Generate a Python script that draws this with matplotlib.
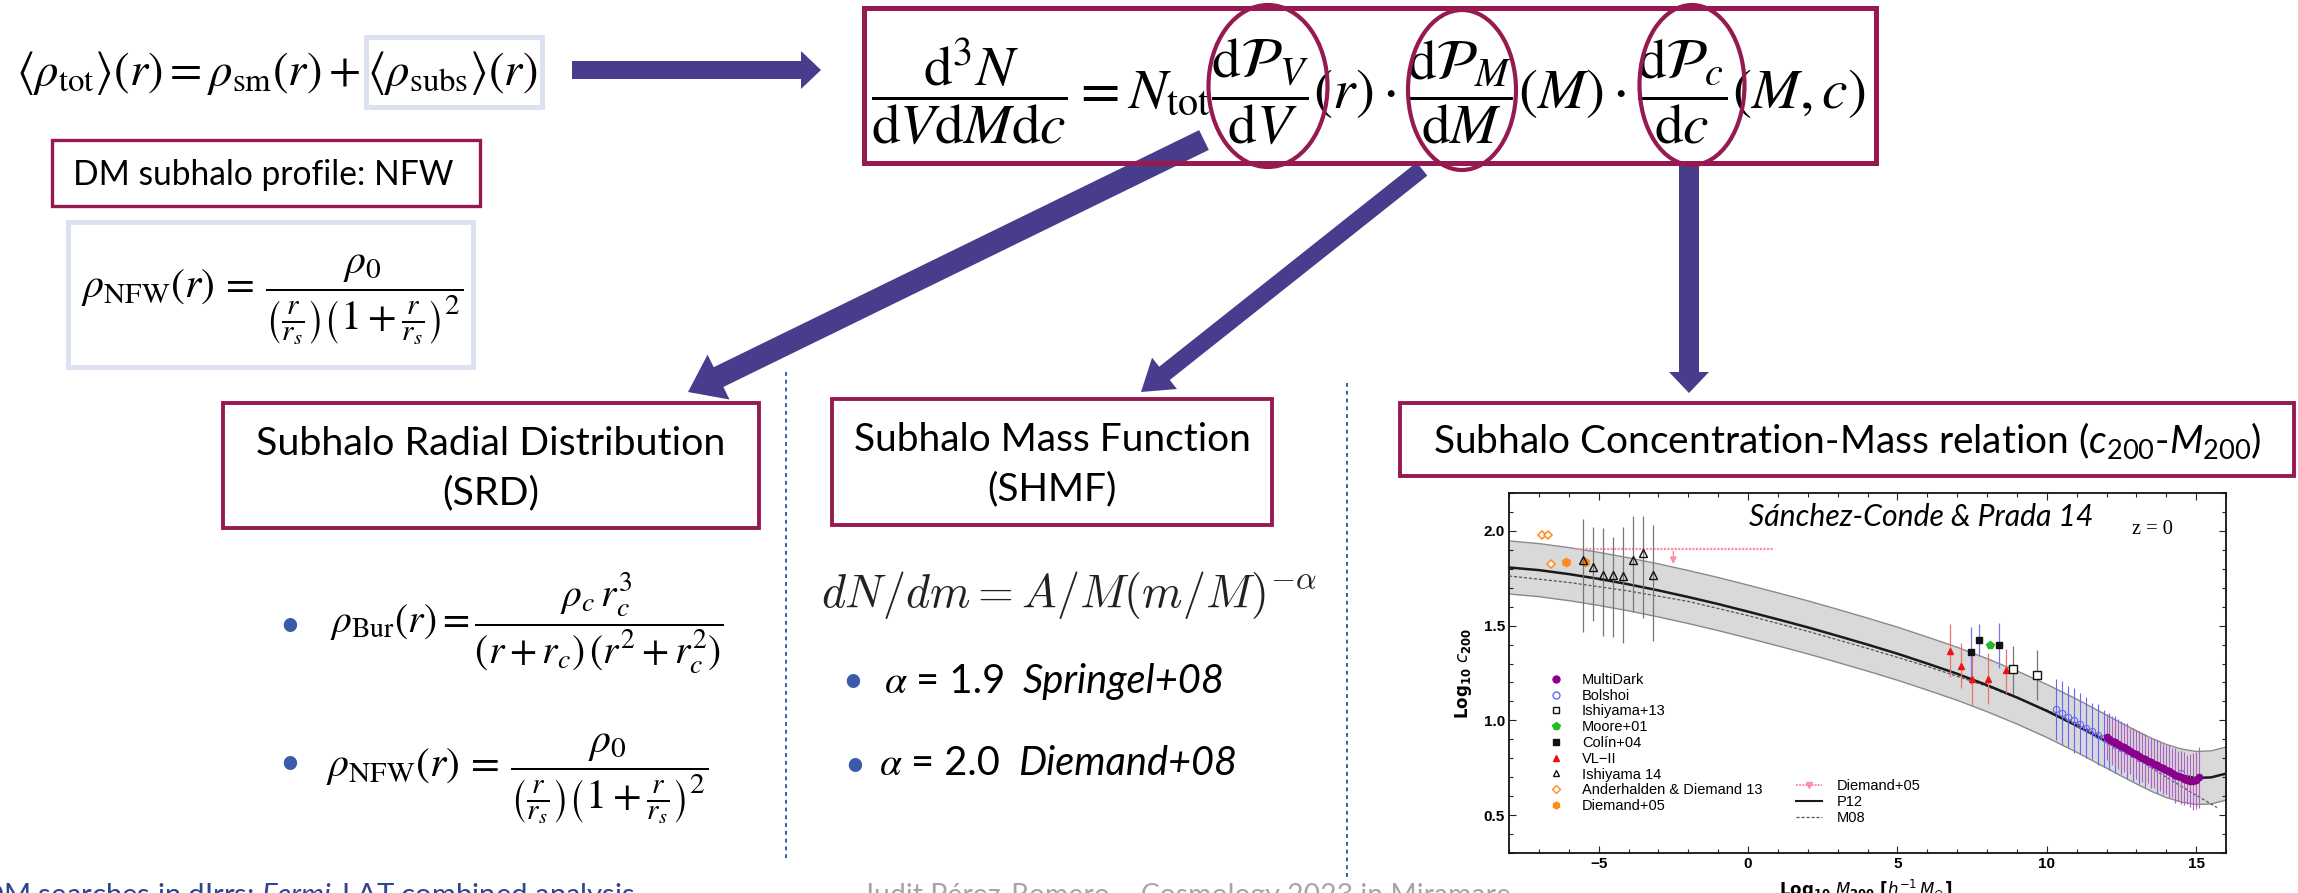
import matplotlib
matplotlib.use('Agg')
import matplotlib.pyplot as plt
from matplotlib.patches import Rectangle, Ellipse, FancyArrow
from matplotlib.lines import Line2D
import numpy as np

plt.rcParams['mathtext.fontset'] = 'stix'
plt.rcParams['mathtext.rm'] = 'Lato'
plt.rcParams['mathtext.it'] = 'Lato:italic'
plt.rcParams['mathtext.bf'] = 'Lato:bold'
plt.rcParams['font.family'] = ['Lato', 'DejaVu Sans']

# ---------------- data ----------------
cm_x = [-8, -7, -6, -5, -4, -3, -2, -1, 0, 1, 2, 3, 4, 5, 6, 7, 8, 9, 10, 11,
        12, 12.5, 13, 13.5, 14, 14.5, 15, 15.5, 16]
p12_y = [1.807, 1.793, 1.772, 1.747, 1.718, 1.686, 1.651, 1.614, 1.574, 1.533,
         1.491, 1.446, 1.400, 1.352, 1.300, 1.246, 1.186, 1.121, 1.050, 0.972,
         0.888, 0.846, 0.805, 0.766, 0.733, 0.709, 0.696, 0.699, 0.719]
band_hi = [1.947, 1.933, 1.912, 1.887, 1.858, 1.826, 1.791, 1.754, 1.714, 1.673,
           1.631, 1.586, 1.540, 1.492, 1.440, 1.386, 1.326, 1.261, 1.190, 1.112,
           1.028, 0.986, 0.945, 0.906, 0.873, 0.849, 0.836, 0.839, 0.859]
band_lo = [1.667, 1.653, 1.632, 1.607, 1.578, 1.546, 1.511, 1.474, 1.434, 1.393,
           1.351, 1.306, 1.260, 1.212, 1.160, 1.106, 1.046, 0.981, 0.910, 0.832,
           0.748, 0.706, 0.665, 0.626, 0.593, 0.569, 0.556, 0.559, 0.579]
m08_x = [-8, -6, -4, -2, 0, 2, 4, 6, 8, 10, 11, 12, 13, 14, 15, 15.7]
m08_y = [1.762, 1.728, 1.683, 1.628, 1.553, 1.470, 1.380, 1.285, 1.180, 1.055,
         0.985, 0.900, 0.800, 0.700, 0.605, 0.540]

multidark_x = [12.0, 12.1, 12.2, 12.3, 12.4, 12.5, 12.6, 12.7, 12.8, 12.9, 13.0,
               13.1, 13.2, 13.3, 13.4, 13.5, 13.6, 13.7, 13.8, 13.9, 14.0, 14.1,
               14.2, 14.3, 14.4, 14.5, 14.6, 14.7, 14.8, 14.9, 15.0, 15.1]
multidark_y = [0.912, 0.902, 0.893, 0.884, 0.875, 0.866, 0.857, 0.848, 0.839, 0.830,
               0.821, 0.812, 0.803, 0.795, 0.787, 0.779, 0.771, 0.763, 0.755, 0.747,
               0.739, 0.731, 0.723, 0.714, 0.706, 0.699, 0.692, 0.686, 0.681, 0.679,
               0.684, 0.700]
multidark_err = [0.12, 0.12, 0.13, 0.12, 0.13, 0.12, 0.13, 0.13, 0.12, 0.13, 0.13,
                 0.12, 0.13, 0.13, 0.12, 0.13, 0.13, 0.12, 0.13, 0.13, 0.13, 0.14,
                 0.13, 0.14, 0.13, 0.14, 0.14, 0.13, 0.14, 0.15, 0.15, 0.16]
bolshoi_x = [10.3, 10.5, 10.7, 10.9, 11.1, 11.3, 11.5, 11.7, 11.9, 12.1, 12.3,
             12.5, 12.7, 12.9, 13.1, 13.3, 13.5, 13.7, 13.9, 14.1, 14.3, 14.5]
bolshoi_y = [1.058, 1.040, 1.020, 1.000, 0.982, 0.962, 0.944, 0.925, 0.906, 0.890,
             0.872, 0.855, 0.838, 0.821, 0.804, 0.789, 0.772, 0.757, 0.742, 0.727,
             0.705, 0.720]
bolshoi_err = [0.16, 0.17, 0.16, 0.17, 0.16, 0.16, 0.15, 0.16, 0.15, 0.15, 0.15,
               0.14, 0.15, 0.14, 0.14, 0.14, 0.13, 0.14, 0.13, 0.13, 0.14, 0.12]
ishi14_x = [-5.53, -5.19, -4.86, -4.52, -4.19, -3.86, -3.53, -3.19]
ishi14_y = [1.847, 1.812, 1.768, 1.768, 1.762, 1.847, 1.882, 1.768]
ishi14_lo = [1.468, 1.525, 1.446, 1.442, 1.410, 1.572, 1.542, 1.419]
ishi14_hi = [2.065, 2.023, 2.014, 1.970, 2.018, 2.079, 2.079, 2.032]
vl2_x = [6.76, 7.12, 7.50, 8.02, 8.63]
vl2_y = [1.366, 1.287, 1.217, 1.220, 1.266]
vl2_lo = [1.229, 1.169, 1.076, 1.087, 1.147]
vl2_hi = [1.507, 1.410, 1.358, 1.358, 1.379]
colin_x = [7.45, 7.73, 8.41]
colin_y = [1.361, 1.424, 1.398]
colin_lo = [1.191, 1.340, 1.278]
colin_hi = [1.493, 1.507, 1.516]
moore_x = [8.09]
moore_y = [1.396]
ishi13_x = [8.87, 9.69]
ishi13_y = [1.270, 1.240]
ishi13_lo = [1.141, 1.108]
ishi13_hi = [1.393, 1.370]
anderh_x = [-6.90, -6.71, -6.60]
anderh_y = [1.977, 1.977, 1.824]
diemand_x = [-6.09, -5.45]
diemand_y = [1.838, 1.838]
diemand_lim_x = [-5.8, 0.85]
diemand_lim_y = [1.907, 1.907]
diemand_arrow_x = -2.5
diemand_arrow_to = 1.81

x_ticks = [-5, 0, 5, 10, 15]
y_ticks = [0.5, 1.0, 1.5, 2.0]

# ---------------- colours ----------------
MAROON = '#961A50'
ARROW = '#483C8C'
LIGHT = '#DCE2F1'
BULLET = '#3B5BAA'

W, H = 2298, 893
fig = plt.figure(figsize=(W / 100, H / 100), dpi=100)
fig.patch.set_facecolor('white')
bg = fig.add_axes([0, 0, 1, 1])
bg.set_xlim(0, W)
bg.set_ylim(H, 0)
bg.axis('off')
renderer = fig.canvas.get_renderer()


def fit(s, x0, x1, y, va='center', size=20, on=None, **kw):
    target = bg if on is None else on
    t = target.text(x0, y, s, fontsize=size, ha='left', va=va, transform=bg.transData, **kw)
    w = t.get_window_extent(renderer).width
    t.set_fontsize(size * (x1 - x0) / w)
    return t


def fitc(s, cx, width, y, va='baseline', size=20, **kw):
    t = fit(s, cx - width / 2, cx + width / 2, y, va=va, size=size, **kw)
    return t


def pieces(parts, x0, x1, y, size=20):
    # parts: list of (string, gap_after_in_em, kwargs)
    texts = []
    x = x0
    for s, gap, kw in parts:
        t = bg.text(x, y, s, fontsize=size, ha='left', va='baseline', **kw)
        w = t.get_window_extent(renderer).width
        texts.append(t)
        x += w + gap * size * 100 / 72
    k = (x1 - x0) / (x - x0 - parts[-1][1] * size * 100 / 72)
    for t in texts:
        px = t.get_position()[0]
        t.set_x(x0 + (px - x0) * k)
        t.set_fontsize(size * k)
    return texts


def box(x0, y0, x1, y1, color, lw):
    bg.add_patch(Rectangle((x0, y0), x1 - x0, y1 - y0, fill=False,
                           edgecolor=color, linewidth=lw, zorder=3))


# ---------------- top-left ----------------
fit(r'$\langle\rho_{\mathrm{tot}}\rangle(r) = \rho_{\mathrm{sm}}(r) + \langle\rho_{\mathrm{subs}}\rangle(r)$',
    16, 537, 73, va='center', size=30, math_fontfamily='stix')
box(366, 37, 542, 107, LIGHT, 3.6)
bg.add_patch(FancyArrow(572, 70, 249, 0, width=18, head_width=38, head_length=20,
                        length_includes_head=True, color=ARROW, lw=0))

box(52, 140, 480, 206, MAROON, 2.4)
fit('DM subhalo profile: NFW', 73, 453, 185, va='baseline', size=24, color='black')
box(68, 222, 473, 367, LIGHT, 3.6)
fit(r'$\rho_{\mathrm{NFW}}(r)\, =\, \dfrac{\rho_0}{\left(\frac{r}{r_s}\right)\left(1+\frac{r}{r_s}\right)^2}$',
    81, 463, 300, va='center', size=30, math_fontfamily='stix')

# ---------------- central equation ----------------
box(864, 8, 1876, 163, MAROON, 3.6)
fit(r'$\dfrac{\mathrm{d}^3N}{\mathrm{d}V\mathrm{d}M\mathrm{d}c} = N_{\mathrm{tot}}'
    r'\dfrac{\mathrm{d}\mathcal{P}_V}{\mathrm{d}V}(r)\cdot'
    r'\dfrac{\mathrm{d}\mathcal{P}_M}{\mathrm{d}M}(M)\cdot'
    r'\dfrac{\mathrm{d}\mathcal{P}_c}{\mathrm{d}c}(M,c)$',
    871, 1867, 92, va='center', size=34, math_fontfamily='stix')
for cx, cy, ew, eh in [(1268, 86, 119, 162), (1462, 90, 108, 160), (1692, 85, 105, 160)]:
    bg.add_patch(Ellipse((cx, cy), ew, eh, fill=False, edgecolor=MAROON, lw=3, zorder=4))

# arrows
bg.add_patch(FancyArrow(1204, 140, 688 - 1204, 392 - 140, width=22, head_width=50,
                        head_length=34, length_includes_head=True, color=ARROW, lw=0))
bg.add_patch(FancyArrow(1422, 169, 1141 - 1422, 392 - 169, width=17, head_width=40,
                        head_length=30, length_includes_head=True, color=ARROW, lw=0))
bg.add_patch(FancyArrow(1689, 165, 0, 228, width=20, head_width=40, head_length=21,
                        length_includes_head=True, color=ARROW, lw=0))

# dotted separators
bg.plot([786, 786], [372, 862], ls=(0, (2, 2)), lw=1.4, color=BULLET)
bg.plot([1347, 1347], [383, 880], ls=(0, (2, 2)), lw=1.4, color=BULLET)

# ---------------- SRD ----------------
box(223, 403, 759, 528, MAROON, 2.8)
t = fitc('Subhalo Radial Distribution', 491, 469, 455, size=28, color='black')
bg.text(491, 504, '(SRD)', fontsize=t.get_fontsize(), ha='center', va='baseline', color='black')
bg.text(290, 625, '\u2022', fontsize=26, ha='center', va='center', color=BULLET)
fit(r'$\rho_{\mathrm{Bur}}(r) = \dfrac{\rho_c\, r_c^3}{(r+r_c)\,(r^2+r_c^2)}$',
    330, 723, 623, va='center', size=26, math_fontfamily='stix')
bg.text(290, 763, '\u2022', fontsize=26, ha='center', va='center', color=BULLET)
fit(r'$\rho_{\mathrm{NFW}}(r)\, =\, \dfrac{\rho_0}{\left(\frac{r}{r_s}\right)\left(1+\frac{r}{r_s}\right)^2}$',
    326, 708, 779, va='center', size=26, math_fontfamily='stix')

# ---------------- SHMF ----------------
box(832, 399, 1272, 525, MAROON, 2.8)
t = fitc('Subhalo Mass Function', 1052, 397, 451, size=28, color='black')
bg.text(1052, 500, '(SHMF)', fontsize=t.get_fontsize(), ha='center', va='baseline', color='black')
fit(r'$dN/dm = A/M(m/M)^{-\alpha}$', 821, 1317, 595, va='center', size=30,
    math_fontfamily='cm', color='#222222')
bg.text(853, 682, '\u2022', fontsize=26, ha='center', va='center', color=BULLET)
pieces([(r'$\alpha$', 0.2, dict(math_fontfamily='stix')),
        ('= 1.9', 0.45, dict()),
        ('Springel+08', 0, dict(style='italic'))], 884, 1225, 693, size=28)
bg.text(855, 765, '\u2022', fontsize=26, ha='center', va='center', color=BULLET)
pieces([(r'$\alpha$', 0.2, dict(math_fontfamily='stix')),
        ('= 2.0', 0.45, dict()),
        ('Diemand+08', 0, dict(style='italic'))], 879, 1237, 775, size=28)

# ---------------- c-M ----------------
box(1400, 403, 2294, 476, MAROON, 2.8)
fit(r'Subhalo Concentration-Mass relation ($\mathit{c}_{\mathit{200}}$-$\mathit{M}_{\mathit{200}}$)',
    1433, 2261, 453, va='baseline', size=28, math_fontfamily='custom', color='black')

# ---------------- footer ----------------
fit(r'DM searches in dIrrs: $\mathit{Fermi}$-LAT combined analysis', -19, 634, 881,
    va='top', size=19, math_fontfamily='custom', color='#2E4593')
fit('Judit Pérez-Romero \u2013 Cosmology 2023 in Miramare', 862, 1510, 883,
    va='top', size=19, color='#A6A6A6')

# ---------------- inset chart ----------------
ax = fig.add_axes([1509 / W, (H - 853) / H, (2226 - 1509) / W, (853 - 493) / H])
ax.fill_between(cm_x, band_lo, band_hi, color='#d9d9d9', lw=0, zorder=1)
ax.plot(cm_x, band_hi, color='#8a8a8a', lw=1.0, zorder=2)
ax.plot(cm_x, band_lo, color='#8a8a8a', lw=1.0, zorder=2)
ax.plot(m08_x, m08_y, color='#555555', lw=0.9, ls=(0, (2.5, 1.5)), zorder=3)
ax.plot(cm_x, p12_y, color='#1a1a1a', lw=1.8, zorder=3)

ax.plot(diemand_lim_x, diemand_lim_y, color='#FF8FA6', lw=1.6, ls=(0, (1, 0.6)), zorder=4)
ax.annotate('', xy=(diemand_arrow_x, diemand_arrow_to), xytext=(diemand_arrow_x, diemand_lim_y[0]),
            arrowprops=dict(arrowstyle='-|>', color='#FF8FA6', lw=1.0, mutation_scale=10), zorder=4)

ax.errorbar(bolshoi_x, bolshoi_y, yerr=bolshoi_err, fmt='o', ms=4.5, mfc='none', mec='#6666FF',
            mew=0.8, ecolor='#6666FF', elinewidth=0.8, capsize=0, zorder=5)
ax.errorbar(multidark_x, multidark_y, yerr=multidark_err, fmt='o', ms=4.5, color='#8B008B',
            ecolor='#B060C0', elinewidth=0.8, capsize=0, zorder=6)

ix = np.array(ishi14_x); iy = np.array(ishi14_y)
ax.errorbar(ix, iy, yerr=[iy - np.array(ishi14_lo), np.array(ishi14_hi) - iy], fmt='^', ms=6,
            mfc='none', mec='#111111', mew=1.0, ecolor='#777777', elinewidth=0.9, capsize=0, zorder=6)
vx = np.array(vl2_x); vy = np.array(vl2_y)
ax.errorbar(vx, vy, yerr=[vy - np.array(vl2_lo), np.array(vl2_hi) - vy], fmt='^', ms=5,
            color='#EE1111', ecolor='#F07070', elinewidth=0.9, capsize=0, zorder=6)
cy = np.array(colin_y)
ax.errorbar(colin_x, cy, yerr=[cy - np.array(colin_lo), np.array(colin_hi) - cy], fmt='s', ms=5,
            color='#111111', ecolor='#7777EE', elinewidth=0.9, capsize=0, zorder=6)
ax.plot(moore_x, moore_y, 'p', ms=6, color='#22BB22', zorder=7)
i13 = np.array(ishi13_y)
ax.errorbar(ishi13_x, i13, yerr=[i13 - np.array(ishi13_lo), np.array(ishi13_hi) - i13], fmt='s',
            ms=6, mfc='white', mec='#111111', mew=1.0, ecolor='#777777', elinewidth=0.9,
            capsize=0, zorder=6)
ax.plot(anderh_x, anderh_y, 'D', ms=4.5, mfc='white', mec='#FF8C1A', mew=1.1, ls='none', zorder=7)
ax.plot(diemand_x, diemand_y, 'h', ms=6, color='#FF8C1A', ls='none', zorder=5)

ax.set_xlim(-8, 16)
ax.set_ylim(0.3, 2.2)
ax.set_xticks(x_ticks)
ax.set_yticks(y_ticks)
ax.set_xticklabels([f'{v:d}' if v >= 0 else '\u2212' + f'{-v:d}' for v in x_ticks])
ax.set_yticklabels([f'{v:.1f}' for v in y_ticks])
ax.xaxis.set_minor_locator(matplotlib.ticker.MultipleLocator(1))
ax.yaxis.set_minor_locator(matplotlib.ticker.MultipleLocator(0.1))
ax.tick_params(which='both', direction='in', top=True, right=True, width=0.8, color='#222222')
ax.tick_params(which='major', length=5, pad=3)
ax.tick_params(which='minor', length=3)
for lab in ax.get_xticklabels() + ax.get_yticklabels():
    lab.set_fontweight('bold')
    lab.set_family('Liberation Sans')
    lab.set_fontsize(11)
for sp in ax.spines.values():
    sp.set_linewidth(1.3)
    sp.set_color('#111111')

ax.set_ylabel(r'$\mathbf{Log_{10}}\ \mathit{c}_{\mathbf{200}}$', fontsize=12,
              math_fontfamily='dejavusans')
ax.yaxis.set_label_coords(-0.049, 0.5)
ax.set_xlabel(r'$\mathbf{Log_{10}}\ \mathit{M}_{\mathbf{200}}\ \mathbf{[}\mathit{h}^{-1}\,\mathit{M}_{\odot}\mathbf{]}$',
              fontsize=12, math_fontfamily='dejavusans')
ax.xaxis.set_label_coords(0.498, -0.07)
ax.xaxis.label.set_va('top')

# title texts inside the inset (figure-level texts, placed in slide pixel coordinates)
fit('Sánchez-Conde & Prada 14', 1749, 2094, 517, va='center', size=26, on=fig,
    style='italic', color='black', zorder=10)
fit('z = 0', 2132, 2173, 530, va='center', size=14, on=fig, family='Liberation Serif',
    color='black', zorder=10)

h1 = [Line2D([], [], marker='o', ls='none', ms=5, color='#8B008B'),
      Line2D([], [], marker='o', ls='none', ms=5, mfc='none', mec='#6666FF'),
      Line2D([], [], marker='s', ls='none', ms=5, mfc='white', mec='#111111', mew=1.0),
      Line2D([], [], marker='p', ls='none', ms=6, color='#22BB22'),
      Line2D([], [], marker='s', ls='none', ms=5, color='#111111'),
      Line2D([], [], marker='^', ls='none', ms=5, color='#EE1111'),
      Line2D([], [], marker='^', ls='none', ms=5, mfc='none', mec='#111111', mew=1.0),
      Line2D([], [], marker='D', ls='none', ms=4, mfc='white', mec='#FF8C1A', mew=1.0),
      Line2D([], [], marker='h', ls='none', ms=5, color='#FF8C1A')]
l1 = ['MultiDark', 'Bolshoi', 'Ishiyama+13', 'Moore+01', 'Colín+04', 'VL\u2212II',
      'Ishiyama 14', 'Anderhalden & Diemand 13', 'Diemand+05']
leg1 = ax.legend(h1, l1, loc='upper left', bbox_to_anchor=(0.055, 0.50), frameon=False,
                 handlelength=1.0, handletextpad=1.3, labelspacing=0.12, borderpad=0,
                 borderaxespad=0, numpoints=1, prop={'family': 'Liberation Sans', 'size': 10.5})
ax.add_artist(leg1)
h2 = [Line2D([], [], color='#FF8FA6', ls=(0, (1, 0.6)), lw=1.4, marker='v', ms=5),
      Line2D([], [], color='#1a1a1a', lw=1.5),
      Line2D([], [], color='#555555', lw=0.9, ls=(0, (2.5, 1.5)))]
l2 = ['Diemand+05', 'P12', 'M08']
ax.legend(h2, l2, loc='upper left', bbox_to_anchor=(0.40, 0.205), frameon=False,
          handlelength=1.8, handletextpad=1.0, labelspacing=0.12, borderpad=0,
          borderaxespad=0, numpoints=1, prop={'family': 'Liberation Sans', 'size': 10.5})

fig.savefig('out.png', dpi=100, facecolor='white')
